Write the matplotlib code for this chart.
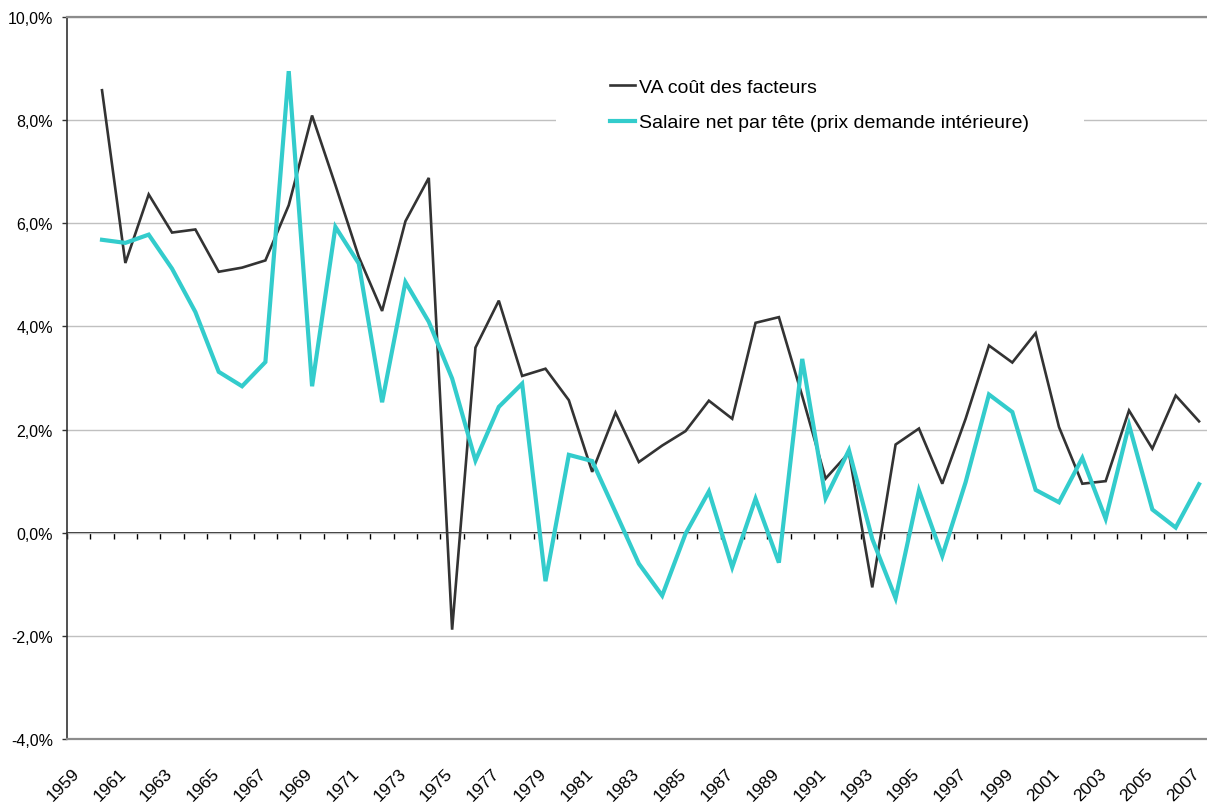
import matplotlib
matplotlib.use("Agg")
import matplotlib.pyplot as plt
import matplotlib.transforms as mtransforms
from matplotlib.ticker import FuncFormatter
import numpy as np

plt.rcParams['font.family'] = ['Liberation Sans', 'DejaVu Sans']

# categories (1959 has no data)
years = list(range(1959, 2008))
data_years = list(range(1960, 2008))

va_cout_facteurs = [8.58, 5.23, 6.56, 5.82, 5.88, 5.06, 5.14, 5.28, 6.35, 8.09,
                    6.74, 5.35, 4.30, 6.04, 6.88, -1.88, 3.59, 4.50, 3.04, 3.18,
                    2.57, 1.18, 2.33, 1.37, 1.69, 1.97, 2.56, 2.21, 4.07, 4.18,
                    2.65, 1.05, 1.55, -1.06, 1.71, 2.02, 0.95, 2.21, 3.63, 3.30,
                    3.87, 2.05, 0.95, 1.00, 2.37, 1.63, 2.66, 2.16]

salaire_net = [5.68, 5.62, 5.78, 5.12, 4.28, 3.12, 2.84, 3.31, 8.95, 2.84,
               5.93, 5.22, 2.53, 4.86, 4.09, 2.99, 1.40, 2.44, 2.89, -0.94,
               1.51, 1.39, 0.40, -0.60, -1.22, -0.02, 0.80, -0.67, 0.66, -0.58,
               3.37, 0.67, 1.60, -0.12, -1.27, 0.82, -0.45, 0.98, 2.68, 2.34,
               0.83, 0.59, 1.45, 0.27, 2.09, 0.45, 0.10, 0.94]

label_years = [str(y) for y in range(1959, 2008, 2)]

fig = plt.figure(figsize=(12.07, 8.03), dpi=100)
W, H = 1207, 803
left_px, right_px, top_px, bot_px = 67, 1210.7, 18, 740
ax = fig.add_axes([left_px / W, 1 - bot_px / H, (right_px - left_px) / W, (bot_px - top_px) / H])

xpos = [years.index(y) for y in data_years]
ax.plot(xpos, va_cout_facteurs, color='#333333', lw=1.9, label='VA coût des facteurs',
        solid_joinstyle='miter', zorder=3)
ax.plot(xpos, salaire_net, color='#33CCCC', lw=3.0, label='Salaire net par tête (prix demande intérieure)',
        solid_joinstyle='miter', zorder=4)

ax.set_xlim(-0.5, len(years) - 0.5)
ax.set_ylim(-4, 10)

# y axis
ax.set_yticks(np.arange(-4, 10.1, 2))
ax.yaxis.set_major_formatter(FuncFormatter(lambda v, p: f"{v:.1f}".replace('.', ',') + '%'))
ax.tick_params(axis='y', direction='out', length=3.6, width=1, color='#333333', pad=6.5,
               labelsize=11.5, labelcolor='black')
ax.grid(axis='y', color='#C0C0C0', lw=1)
ax.set_axisbelow(True)

# x axis labels at the bottom
label_idx = [years.index(int(s)) for s in label_years]
ax.set_xticks(label_idx)
ax.set_xticklabels(label_years, rotation=45, ha='right', va='top', rotation_mode='anchor')
ax.tick_params(axis='x', length=0, labelsize=12.5, pad=19)
offset = mtransforms.ScaledTranslation(-7 / 100, 0, fig.dpi_scale_trans)
for lab in ax.get_xticklabels():
    lab.set_transform(lab.get_transform() + offset)

for s in ['top', 'bottom']:
    ax.spines[s].set_color('#8C8C8C')
    ax.spines[s].set_linewidth(1.6)
ax.spines['right'].set_visible(False)
ax.spines['left'].set_color('#333333')
ax.spines['left'].set_linewidth(1.2)

# zero line with category boundary ticks
sec = ax.secondary_xaxis(4 / 14)
sec.set_xticks([i - 0.5 for i in range(len(years) + 1)])
sec.set_xticklabels([])
sec.tick_params(axis='x', direction='out', length=4.5, width=1, color='black')
sec.spines['bottom'].set_color('black')
sec.spines['bottom'].set_linewidth(1.2)

leg = ax.legend(loc='center left', bbox_to_anchor=(546 / W, 1 - 106 / H), bbox_transform=fig.transFigure,
                frameon=True, fontsize=14, handlelength=1.3, handletextpad=0.2,
                borderpad=2.8, labelspacing=0.9)
leg.get_frame().set_facecolor('white')
leg.get_frame().set_edgecolor('none')
leg.get_frame().set_alpha(1)
leg.set_zorder(10)

fig.savefig('out.png', dpi=100)
